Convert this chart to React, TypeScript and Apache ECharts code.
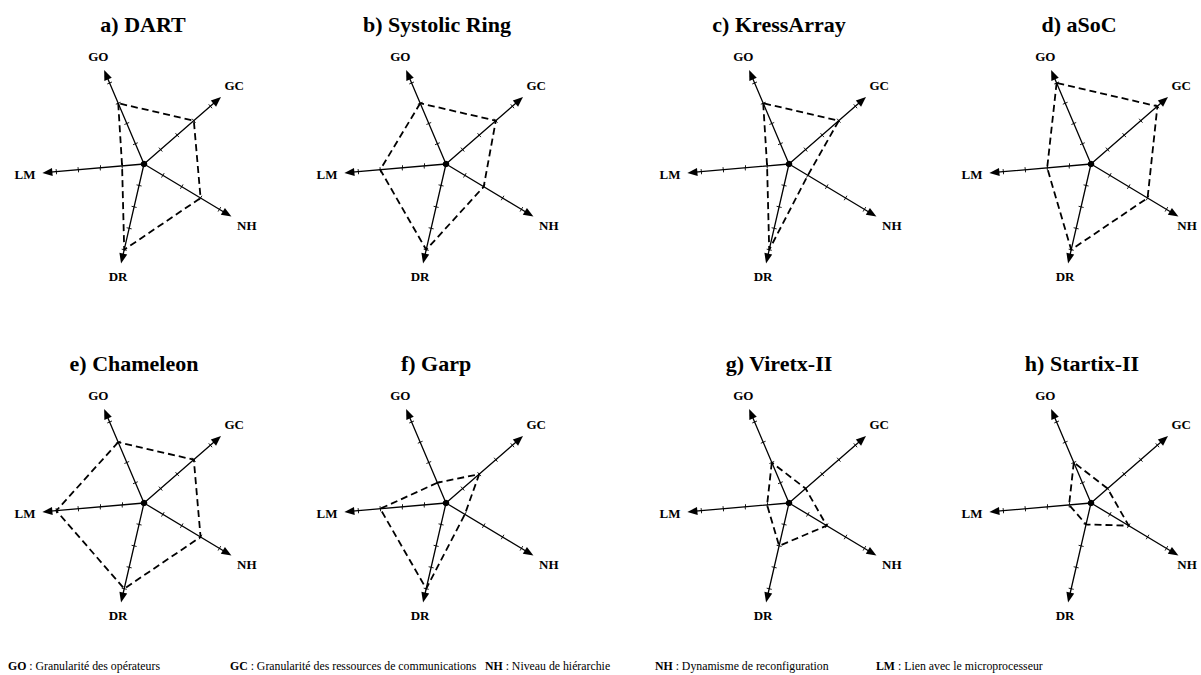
import React, { useEffect, useRef } from 'react';
import * as echarts from 'echarts';

// Criteria, listed clockwise starting from the upper-left axis
const AXES = ['GO', 'GC', 'NH', 'DR', 'LM'];

// Architecture panels
const TITLES = [
  'a) DART',
  'b) Systolic Ring',
  'c) KressArray',
  'd) aSoC',
  'e) Chameleon',
  'f) Garp',
  'g) Viretx-II',
  'h) Startix-II',
];

// Scores on each criterion, in AXES order [GO, GC, NH, DR, LM]
const DART = [3, 3, 3, 4, 1];
const SYSTOLIC_RING = [3, 3, 2, 4, 3];
const KRESSARRAY = [3, 3, 1, 4, 1];
const ASOC = [4, 4, 3, 4, 2];
const CHAMELEON = [3, 3, 3, 4, 4];
const GARP = [1, 2, 1, 4, 3];
const VIRETX_II = [2, 1, 2, 2, 1];
const STARTIX_II = [2, 1, 2, 1, 1];
const SCORES = [DART, SYSTOLIC_RING, KRESSARRAY, ASOC, CHAMELEON, GARP, VIRETX_II, STARTIX_II];

// Graduations drawn on every axis
const TICK_MAX = 4;

// Key at the bottom
const KEY_TERMS = ['GO', 'GC', 'NH', 'NH', 'LM'];
const KEY_TEXTS = [
  'Granularité des opérateurs',
  'Granularité des ressources de communications',
  'Niveau de hiérarchie',
  'Dynamisme de reconfiguration',
  'Lien avec le microprocesseur',
];

// ---- layout ----
const W = 1201;
const H = 675;
const COL_X = [144, 446, 789, 1091];
const ROW_Y = [164, 503];
const TITLE_X = [143, 437, 779, 1079, 134, 436, 779, 1082];
const TITLE_Y = [24, 363];
const KEY_X = [8, 230, 485, 655, 876];
const KEY_Y = 666;
const KEY_SIZE = 11.8;
const UNIT = 22; // pixels per score step
const LINE_R = 97; // axis line length; the arrow head reaches a few px further
const START_ANGLE = 113;
const NAME_GAP = 108;
const NAME_HALF_W = 11;
const SERIF = 'Liberation Serif';

// ECharts lays indicators counter-clockwise, so walk AXES backwards from GO
const ORDER = [0, 4, 3, 2, 1];

export default function App() {
  const ref = useRef<HTMLDivElement>(null);

  useEffect(() => {
    if (!ref.current) return;
    const chart = echarts.init(ref.current, undefined, { renderer: 'svg', width: W, height: H });

    const radars: any[] = [];
    const series: any[] = [];
    const graphics: any[] = [];

    TITLES.forEach((title, p) => {
      const cx = COL_X[p % 4];
      const cy = ROW_Y[Math.floor(p / 4)];
      const common = {
        center: [cx, cy],
        startAngle: START_ANGLE,
        shape: 'polygon',
        axisName: { show: false },
        splitLine: { show: false },
        splitArea: { show: false },
        axisLabel: { show: false },
      };
      // main axes with arrow heads
      radars.push({
        ...common,
        radius: LINE_R,
        indicator: ORDER.map((i) => ({ name: AXES[i], min: 0, max: LINE_R / UNIT })),
        axisLine: {
          show: true,
          symbol: ['none', 'triangle'],
          symbolSize: [8, 10],
          lineStyle: { color: '#000', width: 1.3 },
        },
        axisTick: { show: false },
      });
      // graduation marks, one half on each side of the axis
      [2.6, -2.6].forEach((len) => {
        radars.push({
          ...common,
          radius: TICK_MAX * UNIT,
          splitNumber: TICK_MAX,
          indicator: ORDER.map((i) => ({ name: AXES[i], min: 0, max: TICK_MAX })),
          axisLine: { show: false },
          axisTick: { show: true, length: len, lineStyle: { color: '#000', width: 0.9 } },
        });
      });

      series.push({
        type: 'radar',
        radarIndex: p * 3,
        symbol: 'none',
        silent: true,
        lineStyle: { color: '#000', width: 1.8, type: [7, 4] },
        data: [{ name: title, value: ORDER.map((i) => SCORES[p][i]) }],
      });

      // center hub
      graphics.push({
        type: 'circle',
        shape: { cx, cy, r: 3.3 },
        style: { fill: '#000' },
        z: 100,
      });

      // axis names beyond the arrow heads (kept inside the canvas)
      AXES.forEach((name, k) => {
        const a = ((START_ANGLE - 72 * k) * Math.PI) / 180;
        const dx = Math.cos(a);
        const dy = -Math.sin(a);
        const d = NAME_GAP + Math.abs(dx) * NAME_HALF_W + Math.abs(dy) * 5;
        const x = Math.min(cx + dx * d, W - 2 - NAME_HALF_W - 1);
        graphics.push({
          type: 'text',
          x,
          y: cy + dy * d,
          style: {
            text: name,
            fill: '#000',
            fontSize: 13,
            fontWeight: 'bold',
            fontFamily: SERIF,
            align: 'center',
            verticalAlign: 'middle',
          },
        });
      });

      // panel title
      graphics.push({
        type: 'text',
        x: TITLE_X[p],
        y: TITLE_Y[Math.floor(p / 4)],
        style: {
          text: title,
          fill: '#000',
          fontSize: 22,
          fontWeight: 'bold',
          fontFamily: SERIF,
          align: 'center',
          verticalAlign: 'middle',
        },
      });
    });

    KEY_TERMS.forEach((term, i) => {
      graphics.push({
        type: 'text',
        x: KEY_X[i],
        y: KEY_Y,
        style: {
          text: `{b|${term}} : ${KEY_TEXTS[i]}`,
          fill: '#000',
          fontSize: KEY_SIZE,
          fontFamily: SERIF,
          align: 'left',
          verticalAlign: 'middle',
          rich: { b: { fontWeight: 'bold', fontSize: KEY_SIZE, fontFamily: SERIF } },
        },
      });
    });

    chart.setOption({
      animation: false,
      backgroundColor: '#fff',
      radar: radars,
      series,
      graphic: graphics,
    });

    return () => chart.dispose();
  }, []);

  return <div ref={ref} style={{ position: 'fixed', left: 0, top: 0, width: W, height: H }} />;
}
